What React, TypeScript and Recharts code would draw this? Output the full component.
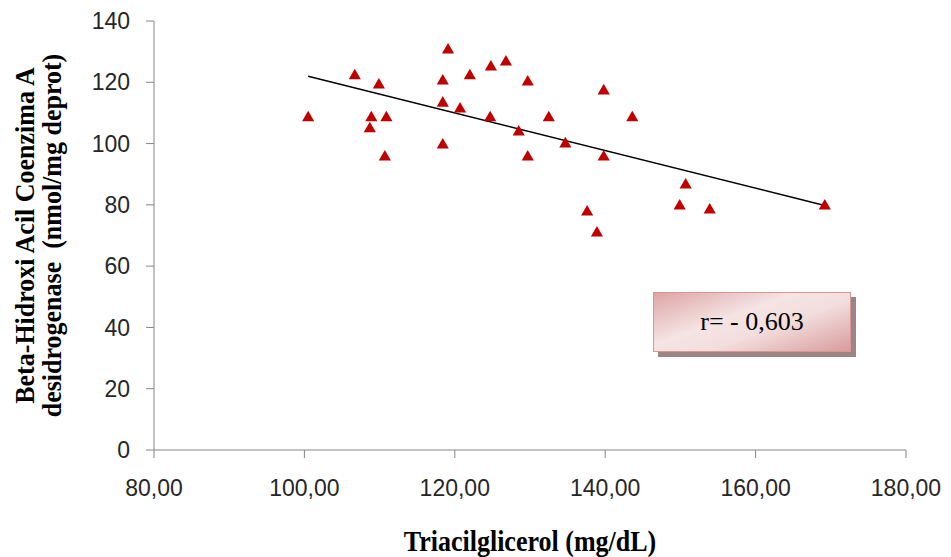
import React from "react";
import {
  ScatterChart,
  Scatter,
  XAxis,
  YAxis,
  ReferenceLine,
} from "recharts";

// Triacilglicerol (mg/dL)
const triacilglicerol = [
  100.5, 106.7, 108.9, 108.7, 109.9, 110.9, 110.7, 118.4, 119.1, 118.4,
  118.4, 120.7, 122.0, 124.8, 126.8, 124.7, 129.7, 128.5, 129.7, 132.5,
  134.7, 139.8, 139.8, 143.6, 137.6, 138.9, 149.9, 150.7, 153.9, 169.2,
];
// Beta-Hidroxi Acil Coenzima A desidrogenase (nmol/mg deprot)
const betaHAD = [
  108.4, 122.1, 108.4, 104.8, 119.1, 108.4, 95.6, 120.4, 130.5, 113.2,
  99.5, 111.3, 122.1, 125.0, 126.6, 108.4, 120.1, 103.8, 95.6, 108.4,
  99.9, 117.2, 95.6, 108.4, 77.7, 70.8, 79.6, 86.5, 78.3, 79.6,
];
// trend line end points
const trendX = [100.5, 169.2];
const trendY = [122.0, 79.8];

const xTicks = [80, 100, 120, 140, 160, 180];
const yTicks = [0, 20, 40, 60, 80, 100, 120, 140];

const xTitle = "Triacilglicerol (mg/dL)";
const yTitleLine1 = "Beta-Hidroxi Acil Coenzima A";
const yTitleLine2 = "desidrogenase  (nmol/mg deprot)";
const rLabel = "r= - 0,603";

const data = triacilglicerol.map((x, i) => ({ x, y: betaHAD[i] }));
const trendSegment = trendX.map((x, i) => ({ x, y: trendY[i] }));

const AXIS = "#868686";
const TICK_FONT = {
  fontFamily: "'Liberation Sans', Arial, sans-serif",
  fontSize: 23,
  fill: "#262626",
};
const TITLE_FONT = "'Liberation Serif', 'Times New Roman', serif";

const YTitle = (props: any) => {
  const vb = props.viewBox || {};
  const cy = vb.y + vb.height / 2;
  const x1 = vb.x - 54;
  const x2 = vb.x - 27;
  const common = {
    x: 0,
    y: 0,
    textAnchor: "middle" as const,
    fontFamily: TITLE_FONT,
    fontWeight: "bold",
    fontSize: 26,
    fill: "#000",
  };
  return (
    <g>
      <text
        {...common}
        transform={`translate(${x1}, ${cy}) rotate(-90) scale(1, 1.05)`}
      >
        {yTitleLine1}
      </text>
      <text
        {...common}
        transform={`translate(${x2}, ${cy}) rotate(-90) scale(1, 1.05)`}
        style={{ whiteSpace: "pre" }}
      >
        {yTitleLine2}
      </text>
    </g>
  );
};

const XTitle = (props: any) => {
  const vb = props.viewBox || {};
  const cx = vb.x + vb.width / 2;
  return (
    <text
      x={0}
      y={0}
      transform={`translate(${cx}, 543) scale(1, 1.1)`}
      textAnchor="middle"
      fontFamily={TITLE_FONT}
      fontWeight="bold"
      fontSize={26}
      fill="#000"
    >
      {xTitle}
    </text>
  );
};

export default function App() {
  return (
    <div style={{ position: "relative", width: 943, height: 549 }}>
      <ScatterChart
        width={943}
        height={549}
        margin={{ top: 13, right: 45, bottom: 47, left: 80 }}
      >
        <XAxis
          type="number"
          dataKey="x"
          domain={[80, 180]}
          ticks={xTicks}
          interval={0}
          tickFormatter={(v: number) => v.toFixed(2).replace(".", ",")}
          stroke={AXIS}
          tickLine={{ stroke: AXIS }}
          tickSize={8}
          tickMargin={22}
          tick={TICK_FONT}
          height={60}
          allowDataOverflow
          label={<XTitle />}
        />
        <YAxis
          type="number"
          dataKey="y"
          domain={[0, 140]}
          ticks={yTicks}
          interval={0}
          stroke={AXIS}
          tickLine={{ stroke: AXIS }}
          tickSize={8}
          tickMargin={16}
          tick={TICK_FONT}
          width={66}
          allowDataOverflow
          label={<YTitle />}
        />
        <ReferenceLine
          segment={trendSegment}
          stroke="#000"
          strokeWidth={1.5}
          ifOverflow="visible"
        />
        <Scatter
          data={data}
          shape="triangle"
          fill="#C00000"
          isAnimationActive={false}
        />
      </ScatterChart>
      <div
        style={{
          position: "absolute",
          left: 645,
          top: 284,
          width: 196,
          height: 58,
          border: "1px solid #d99694",
          background:
            "linear-gradient(160deg, #dea4a4 0%, #f5e4e4 40%, #f3dede 60%, #d89c9c 100%)",
          boxShadow: "5px 5px 0 #9e8585",
          display: "flex",
          alignItems: "center",
          justifyContent: "center",
          fontFamily: TITLE_FONT,
          fontSize: 26,
          color: "#000",
        }}
      >
        {rLabel}
      </div>
    </div>
  );
}
